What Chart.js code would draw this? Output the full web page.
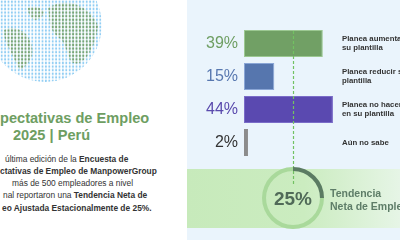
<!DOCTYPE html>
<html><head><meta charset="utf-8">
<script src="https://cdn.jsdelivr.net/npm/chart.js@4"></script>
<style>
html,body{margin:0;padding:0;width:400px;height:240px;overflow:hidden;background:#fff;font-family:"Liberation Sans",Arial,sans-serif;}
#panel{position:absolute;left:187px;top:0;width:213px;height:240px;background:#eaf4fc;}
#band{position:absolute;left:187px;top:169px;width:213px;height:59px;background:linear-gradient(90deg,#c7eabb 0%,#cbecc0 55%,#e6f5e6 100%);}
#bar{position:absolute;left:187px;top:0;width:213px;height:240px;}
#ring{position:absolute;left:262px;top:167px;width:62px;height:62px;}
.t{position:absolute;white-space:nowrap;}
.title{color:#6e9e62;font-weight:bold;font-size:14.6px;}
.p{color:#333;font-size:8.4px;}
.p b{font-weight:bold;}
.tr{color:#5e7d68;font-weight:bold;font-size:10.5px;}
</style></head><body>
<svg style="position:absolute;left:0;top:0" width="110" height="90">
<defs>
<pattern id="bd" width="3.4" height="3.6" patternUnits="userSpaceOnUse"><ellipse cx="1.7" cy="1.8" rx="1" ry="1.3" fill="#8fcdf3"/></pattern>
<pattern id="gd" width="3.4" height="3.6" patternUnits="userSpaceOnUse"><ellipse cx="1.7" cy="1.8" rx="1" ry="1.3" fill="#7da56c"/></pattern>
<clipPath id="gc"><circle cx="45" cy="25" r="57"/></clipPath>
</defs>
<g clip-path="url(#gc)">
<circle cx="45" cy="25" r="57" fill="url(#bd)"/>
<path d="M48 8 Q60 0 75 4 Q92 10 98 26 Q96 45 86 58 Q76 68 70 60 Q66 48 62 40 Q52 34 50 24 Z" fill="url(#gd)"/>
<path d="M4 30 Q14 24 26 34 Q34 44 32 56 Q28 66 20 70 Q14 60 10 50 Q4 42 4 30 Z" fill="url(#gd)"/>
<path d="M28 8 Q38 4 44 12 Q42 20 34 20 Q28 16 28 8 Z" fill="url(#gd)"/>
</g>
</svg>
<div class="t title" style="left:0;top:110px;">pectativas de Empleo</div>
<div class="t title" style="left:13px;top:127px;">2025 | Perú</div>
<div class="t p" style="left:5px;top:154px;">última edición de la <b>Encuesta de</b></div>
<div class="t p" style="left:0;top:166px;"><b>ctativas de Empleo de ManpowerGroup</b></div>
<div class="t p" style="left:12px;top:178px;">más de 500 empleadores a nivel</div>
<div class="t p" style="left:3px;top:190px;">nal reportaron una <b>Tendencia Neta de</b></div>
<div class="t p" style="left:2px;top:203px;"><b>eo Ajustada Estacionalmente de 25%.</b></div>
<div id="panel"></div>
<div id="band"></div>
<canvas id="bar" width="213" height="240"></canvas>
<canvas id="ring" width="62" height="62"></canvas>
<div class="t tr" style="left:330px;top:187px;">Tendencia</div>
<div class="t tr" style="left:330px;top:200px;">Neta de Empleo</div>
<script>
const categories = [["Planea aumentar", "su plantilla"], ["Planea reducir su", "plantilla"], ["Planea no hacer", "en su plantilla"], "Aún no sabe"];
const values = [39, 15, 44, 2];
const barColors = ["#71a065", "#5676ae", "#5a49b0", "#8c8c8c"];
const barBorders = ["#9cc892", "#8aa6d6", "#7a6cc8", "#8c8c8c"];
const labelColors = ["#6e9e62", "#5878b0", "#5a4aad", "#333333"];
const netTrend = 25;
const netMarker = values[0] - values[1];

const markerLine = {
  id: 'markerLine',
  afterDatasetsDraw(chart) {
    const ctx = chart.ctx, x = chart.scales.x.getPixelForValue(netMarker);
    ctx.save();
    ctx.strokeStyle = '#72c262';
    ctx.lineWidth = 1.2;
    ctx.setLineDash([3, 2]);
    ctx.beginPath();
    ctx.moveTo(Math.round(x) + 0.5, chart.chartArea.top + 4);
    ctx.lineTo(Math.round(x) + 0.5, 185);
    ctx.stroke();
    ctx.restore();
  }
};

new Chart(document.getElementById('bar'), {
  type: 'bar',
  data: {
    labels: values.map(v => v + '%'),
    datasets: [{
      data: values,
      backgroundColor: barColors,
      borderColor: barBorders,
      borderWidth: 1,
      borderSkipped: false,
      barPercentage: 0.82,
      categoryPercentage: 1,
      yAxisID: 'y'
    }]
  },
  options: {
    indexAxis: 'y',
    responsive: false,
    animation: false,
    events: [],
    layout: {padding: {top: 27, bottom: 81, left: 0, right: 0}},
    plugins: {legend: {display: false}, tooltip: {enabled: false}},
    scales: {
      x: {display: false, min: 0, max: 48},
      y: {
        position: 'left',
        grid: {display: false, drawTicks: false},
        border: {display: false},
        ticks: {padding: 6, color: c => labelColors[c.index], font: {size: 16, family: '"Liberation Sans", Arial'}},
        afterFit: s => { s.width = 57; }
      },
      y2: {
        type: 'category',
        labels: categories,
        position: 'right',
        grid: {display: false, drawTicks: false},
        border: {display: false},
        ticks: {padding: 1, color: '#333', font: {size: 7.8, weight: 'bold', family: '"Liberation Sans", Arial', lineHeight: 1.2}},
        afterFit: s => { s.width = 59; }
      }
    }
  },
  plugins: [markerLine]
});

const centerText = {
  id: 'centerText',
  afterDraw(chart) {
    const ctx = chart.ctx, a = chart.getDatasetMeta(0).data[0];
    ctx.save();
    ctx.fillStyle = '#506a58';
    ctx.font = 'bold 19px "Liberation Sans", Arial';
    ctx.textAlign = 'center';
    ctx.textBaseline = 'middle';
    ctx.fillText(netTrend + '%', a.x, a.y + 2);
    ctx.restore();
  }
};

new Chart(document.getElementById('ring'), {
  type: 'doughnut',
  data: {datasets: [{data: [netTrend, 100 - netTrend], backgroundColor: ['#5b7b63', '#a9d99b'], borderWidth: 0}]},
  options: {
    responsive: false, animation: false, events: [], cutout: '87%',
    plugins: {legend: {display: false}, tooltip: {enabled: false}}
  },
  plugins: [centerText]
});
</script>
</body></html>
